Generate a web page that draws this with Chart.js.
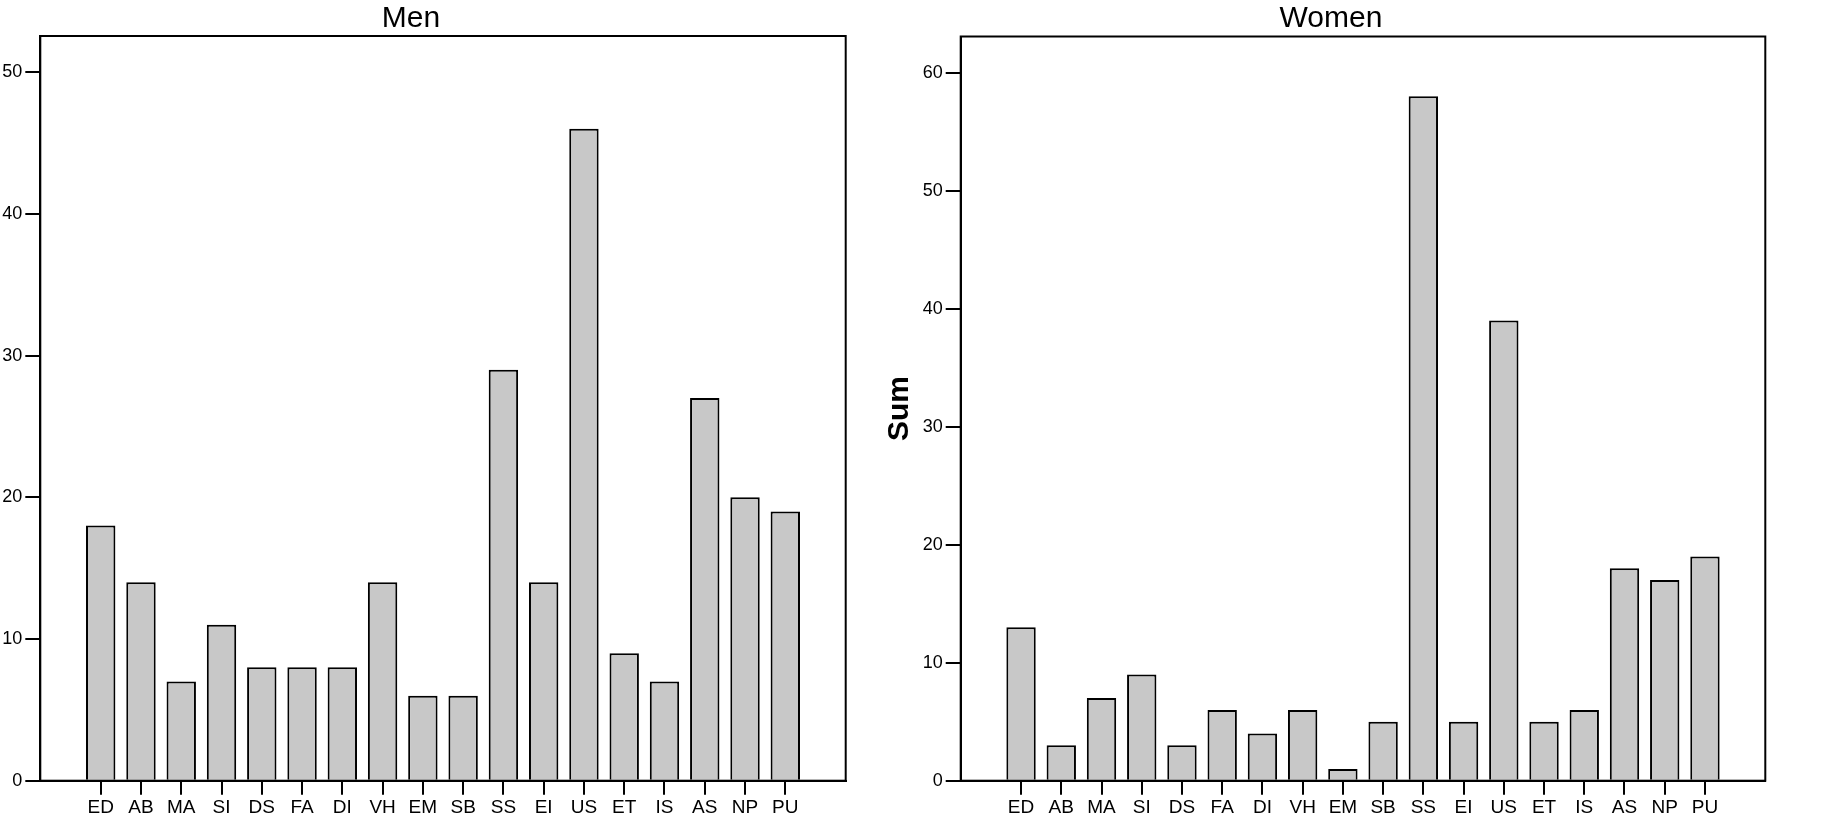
<!DOCTYPE html>
<html>
<head>
<meta charset="utf-8">
<script src="https://cdn.jsdelivr.net/npm/chart.js@4"></script>
<style>
    html, body { margin: 0; padding: 0; background: #ffffff; }
    body { width: 1828px; height: 834px; position: relative; overflow: hidden; }
    .panel { position: absolute; top: 0; height: 834px; }
    #menBox { left: 0; width: 914px; }
    #womenBox { left: 860px; width: 968px; }
</style>
</head>
<body>
<div class="panel" id="menBox"><canvas id="men"></canvas></div>
<div class="panel" id="womenBox"><canvas id="women"></canvas></div>
<script>
const categories = ['ED', 'AB', 'MA', 'SI', 'DS', 'FA', 'DI', 'VH', 'EM', 'SB', 'SS', 'EI', 'US', 'ET', 'IS', 'AS', 'NP', 'PU'];
const menValues = [18, 14, 7, 11, 8, 8, 8, 14, 6, 6, 29, 14, 46, 9, 7, 27, 20, 19];
const womenValues = [13, 3, 7, 9, 3, 6, 4, 6, 1, 5, 58, 5, 39, 5, 6, 18, 17, 19];
const menTicks = [0, 10, 20, 30, 40, 50];
const womenTicks = [0, 10, 20, 30, 40, 50, 60];

const FONT = "'Liberation Sans', Arial, Helvetica, sans-serif";

// frame round the plot area + panel title drawn a bit left of centre
const framePlugin = {
    id: 'frame',
    afterDraw(chart, args, opts) {
        const {ctx, chartArea} = chart;
        ctx.save();
        ctx.strokeStyle = '#000000';
        ctx.lineWidth = 2;
        ctx.strokeRect(chartArea.left, chartArea.top, chartArea.right - chartArea.left, chartArea.bottom - chartArea.top);
        ctx.fillStyle = '#000000';
        ctx.font = '30px ' + FONT;
        ctx.textAlign = 'center';
        ctx.textBaseline = 'alphabetic';
        ctx.fillText(opts.text, (chartArea.left + chartArea.right) / 2 - 32, 27);
        ctx.restore();
    }
};

function makeChart(id, title, values, yTicks, yMax, yWidth, padding, yTitle) {
    const ctx = document.getElementById(id).getContext('2d');
    return new Chart(ctx, {
        type: 'bar',
        data: {
            datasets: [{
                data: values.map((v, i) => ({x: i, y: v})),
                backgroundColor: '#c8c8c8',
                borderColor: '#000000',
                borderWidth: 2,
                categoryPercentage: 1,
                barPercentage: 0.73
            }]
        },
        plugins: [framePlugin],
        options: {
            responsive: true,
            maintainAspectRatio: false,
            animation: false,
            layout: { padding: padding },
            scales: {
                x: {
                    type: 'linear',
                    offset: false,
                    min: -1.5,
                    max: categories.length - 1 + 1.5,
                    afterBuildTicks: scale => {
                        scale.ticks = categories.map((c, i) => ({value: i}));
                    },
                    afterFit: scale => { scale.height = 53.3; },
                    grid: {
                        display: true,
                        offset: false,
                        drawOnChartArea: false,
                        drawTicks: true,
                        tickLength: 14,
                        tickColor: '#000000',
                        lineWidth: 2
                    },
                    border: { display: true, color: '#000000', width: 2 },
                    ticks: {
                        autoSkip: false,
                        maxRotation: 0,
                        padding: 2,
                        color: '#000000',
                        font: { family: FONT, size: 19 },
                        callback: value => categories[value]
                    }
                },
                y: {
                    min: 0,
                    max: yMax,
                    afterBuildTicks: scale => {
                        scale.ticks = yTicks.map(v => ({value: v}));
                    },
                    afterFit: scale => { scale.width = yWidth; },
                    grid: {
                        display: true,
                        drawOnChartArea: false,
                        drawTicks: true,
                        tickLength: 15,
                        tickColor: '#000000',
                        lineWidth: 2
                    },
                    border: { display: true, color: '#000000', width: 2 },
                    ticks: {
                        padding: 3,
                        color: '#000000',
                        font: { family: FONT, size: 18 }
                    },
                    title: {
                        display: !!yTitle,
                        text: yTitle || '',
                        color: '#000000',
                        font: { family: FONT, size: 30, weight: 'bold', lineHeight: 1 },
                        padding: { top: 25, bottom: 0 }
                    }
                }
            },
            plugins: {
                legend: { display: false },
                tooltip: { enabled: false },
                frame: { text: title }
            }
        }
    });
}

const chartMen = makeChart('men', 'Men', menValues, menTicks, 52.55, 40.3,
    { top: 36, right: 68.3, bottom: 0, left: 0 }, null);
const chartWomen = makeChart('women', 'Women', womenValues, womenTicks, 63.07, 100.7,
    { top: 36.5, right: 62.7, bottom: 0, left: 0 }, 'Sum');
</script>
</body>
</html>
